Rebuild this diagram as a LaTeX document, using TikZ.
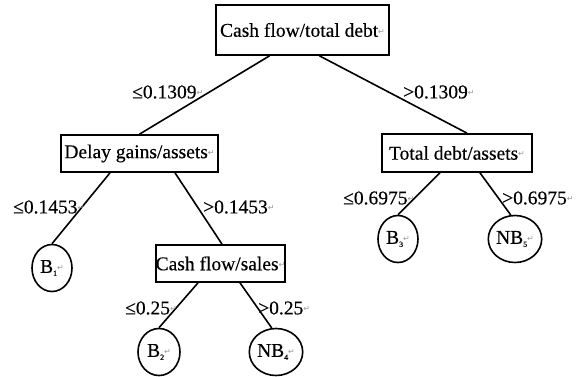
\documentclass[tikz,border=0pt]{standalone}
\usepackage{fontspec}
\setmainfont{Liberation Serif}[FakeBold=0.35]
\newfontfamily\symf{DejaVu Sans}
\usetikzlibrary{shapes.geometric}
\newcommand\pmark{\raisebox{0.3ex}{\color{black!40}\fontsize{8}{8}\selectfont\symf ↵}}
\newcommand\subs[1]{\raisebox{-0.35ex}{\fontsize{8}{8}\selectfont #1}}
\tikzset{
  boxnode/.style={draw, line width=1.7pt, inner sep=0pt, align=center},
  leaf/.style={draw, ellipse, line width=1.6pt, inner sep=0pt, minimum width=40pt, minimum height=47pt},
  cond/.style={inner sep=0pt, anchor=west},
  edge/.style={line width=1.6pt}
}
\begin{document}
\begin{tikzpicture}[x=1pt, y=-1pt, font=\fontsize{19.5}{22}\selectfont]
\useasboundingbox (0,0) rectangle (579,376);
% boxes
\node[boxnode, minimum width=173pt, minimum height=50pt] (root) at (302.5,30) {Cash flow/total debt\pmark};
\node[boxnode, minimum width=157pt, minimum height=37pt] (delay) at (139.5,153.5) {Delay gains/assets\pmark};
\node[boxnode, minimum width=127pt, minimum height=37pt] (cfs) at (220.5,263.5) {Cash flow/sales\pmark};
\node[boxnode, minimum width=150pt, minimum height=38pt] (tda) at (457,153) {Total debt/assets\pmark};
% leaves
\node[leaf] (b1) at (52,268) {B\subs{1}\pmark};
\node[leaf, minimum width=42pt] (b2) at (159,352) {B\subs{2}\pmark};
\node[leaf, minimum width=42pt] (nb4) at (276,352) {NB\subs{4}\pmark};
\node[leaf] (b3) at (398,239) {B\subs{3}\pmark};
\node[leaf, minimum width=38pt] (nb5) at (515,239) {NB\subs{5}\pmark};
% edges
\draw[edge] ([xshift=-33pt]root.south) -- (delay.north);
\draw[edge] ([xshift=17pt]root.south) -- ([xshift=10pt]tda.north);
\draw[edge] ([xshift=-29.5pt]delay.south) -- (b1.north);
\draw[edge] ([xshift=35.5pt]delay.south) -- ([xshift=1.5pt]cfs.north);
\draw[edge] ([xshift=-22.5pt]cfs.south) -- (b2.north);
\draw[edge] ([xshift=19.5pt]cfs.south) -- (nb4.100);
\draw[edge] ([xshift=-17pt]tda.south) -- (b3.north);
\draw[edge] ([xshift=23pt]tda.south) -- (nb5.100);
% conditions
\node[cond] (l1) at (132,92) {≤0.1309\pmark};
\node[cond] (r1) at (403,92) {>0.1309\pmark};
\node[cond] (l2) at (13,207) {≤0.1453\pmark};
\node[cond] (r2) at (203,207) {>0.1453\pmark};
\node[cond] (l3) at (125,308) {≤0.25\pmark};
\node[cond] (r3) at (258,308) {>0.25\pmark};
\node[cond] (l4) at (343,198) {≤0.6975\pmark};
\node[cond] (r4) at (502,198) {>0.6975\pmark};
\end{tikzpicture}
\end{document}
